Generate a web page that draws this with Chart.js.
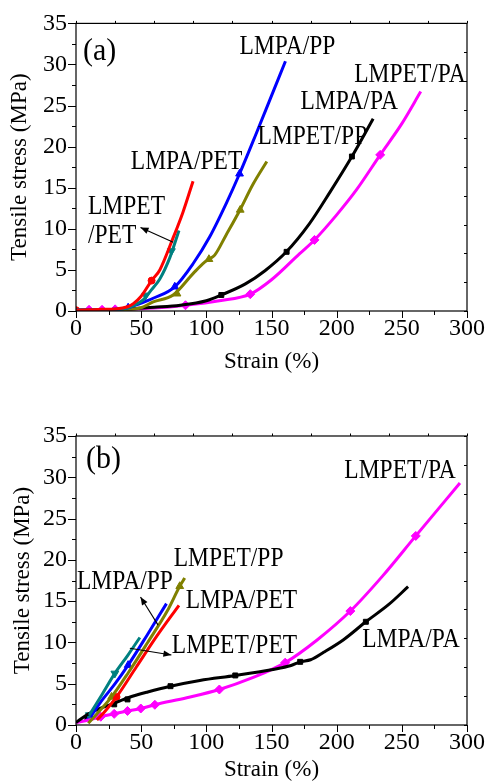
<!DOCTYPE html>
<html><head><meta charset="utf-8">
<script src="https://cdn.jsdelivr.net/npm/chart.js@4.4.1/dist/chart.umd.min.js"></script>
<style>
html,body{margin:0;padding:0;background:#fff;overflow:hidden}
.box{position:relative;width:488px;height:392px}
</style></head><body>
<div class="box"><canvas id="ca"></canvas></div>
<div class="box"><canvas id="cb"></canvas></div>
<script>
// ---------- data (strain %, stress MPa) ----------
const xTickValues = [0, 50, 100, 150, 200, 250, 300];
const yTickValues = [0, 5, 10, 15, 20, 25, 30, 35];
const seriesNames = ['LMPA/PET', 'LMPET/PET', 'LMPA/PP', 'LMPET/PP', 'LMPA/PA', 'LMPET/PA'];

// panel (a) curves
const a_LMPA_PET  = [[0,0.1],[10,0.15],[20,0.2],[30,0.25],[40,0.55],[44,0.9],[50,1.8],[58,3.7],[64.3,5.0],[74.5,8.9],[82,12.0],[89.8,15.8]];
const a_LMPET_PET = [[0,0.1],[20,0.15],[30,0.2],[40,0.4],[46,0.8],[51.5,1.35],[58,2.6],[64.3,3.9],[72,6.5],[79,9.8]];
const a_LMPA_PP   = [[0,0.1],[20,0.15],[30,0.2],[40,0.4],[49,0.9],[59.2,1.55],[75.8,2.95],[89.8,5.75],[102.5,9.0],[115.3,13.1],[125.5,16.7],[138.3,21.6],[148.5,25.6],[160.7,30.4]];
const a_LMPET_PP  = [[0,0.1],[20,0.1],[40,0.2],[50,0.4],[59.2,1.1],[74.5,1.95],[89.8,4.55],[98.7,5.95],[102,6.3],[106.4,6.8],[115,9.2],[125.5,12.2],[135.7,15.4],[146.4,18.2]];
const a_LMPA_PA   = [[0,0.1],[20,0.15],[40,0.25],[60,0.45],[80,0.7],[100,1.25],[111.5,1.95],[130,3.3],[145,4.9],[161.4,7.2],[179,10.6],[195,14.5],[211.7,18.8],[228,23.4]];
const a_LMPET_PA  = [[0,0.1],[20,0.15],[40,0.2],[60,0.35],[84,0.7],[110,1.25],[133.7,2.05],[150,3.8],[171.4,6.95],[183,8.65],[200,11.7],[215,14.7],[233.4,19.0],[250,22.8],[264.5,26.7]];

// panel (a) marker points
const a_mk_LMPA_PET  = [[0,0.1],[58,3.7]];
const a_mk_LMPET_PET = [[53.5,1.9],[73.2,7.3]];
const a_mk_LMPA_PP   = [[40,0.4],[75.8,2.95],[125.5,16.7]];
const a_mk_LMPET_PP  = [[77.5,2.1],[102,6.3],[126,12.3]];
const a_mk_LMPA_PA   = [[111.5,1.95],[161.6,7.2],[211.7,18.8]];
const a_mk_LMPET_PA  = [[10,0.15],[20,0.15],[30,0.2],[84,0.7],[133.7,2.05],[183,8.65],[233.4,19.0]];

// panel (b) curves
const b_LMPA_PET  = [[16,0.6],[22,1.6],[31.1,3.4],[46.4,7.05],[61.7,10.7],[79,14.5]];
const b_LMPET_PET = [[10.2,1.2],[20,3.7],[29.8,6.25],[40,8.5],[49,10.6]];
const b_LMPA_PP   = [[11.2,1.0],[20,3.0],[30,5.0],[40,7.25],[55,11.0],[69.4,14.7]];
const b_LMPET_PP  = [[9.4,0.2],[18,1.7],[27.3,3.4],[40,6.3],[55,10.0],[70,13.8],[79.6,16.8],[83.4,17.8]];
const b_LMPA_PA   = [[0,0.3],[7,1.1],[18.4,2.0],[28.6,2.6],[40,3.3],[55,4.0],[72.5,4.7],[95,5.4],[122.2,6.0],[150,6.7],[165,7.2],[172,7.65],[180,7.9],[190,8.8],[205,10.3],[222.4,12.5],[240,14.6],[254.8,16.75]];
const b_LMPET_PA  = [[0,0.3],[10,0.6],[19,1.0],[29.3,1.35],[39.5,1.7],[49.7,2.0],[60.5,2.45],[85,3.3],[110,4.3],[135,5.7],[160.5,7.55],[185,10.3],[210.5,13.8],[235,18.0],[260.7,22.9],[294.6,29.3]];

// panel (b) marker points
const b_mk_LMPA_PET  = [[31.1,3.4]];
const b_mk_LMPET_PET = [[10.2,1.2],[29.8,6.25]];
const b_mk_LMPA_PP   = [[11.2,1.0],[40,7.25]];
const b_mk_LMPET_PP  = [[27.3,3.4],[79.6,16.8]];
const b_mk_LMPA_PA   = [[8.7,0.85],[29.3,2.5],[39.5,3.1],[72.5,4.7],[122.2,6.0],[172,7.65],[222.4,12.5]];
const b_mk_LMPET_PA  = [[19,1.0],[29.3,1.35],[39.5,1.7],[49.7,2.0],[60.5,2.45],[110,4.3],[160.5,7.55],[210.5,13.8],[260.7,22.9]];

// annotation texts (anchor in data units: left edge, baseline)
const a_labels = [
  {t:'(a)', x:5.4, y:30.5, big:true},
  {t:'LMPA/PP', x:125.5, y:31.26},
  {t:'LMPET/PA', x:213.5, y:27.88},
  {t:'LMPA/PA', x:172.2, y:24.62},
  {t:'LMPET/PP', x:139.3, y:20.28},
  {t:'LMPA/PET', x:42.1, y:17.26},
  {t:'LMPET', x:9.2, y:11.83},
  {t:'/PET', x:9.2, y:8.33}
];
const a_arrows = [{x1:74.6, y1:8.36, x2:49.5, y2:10.17}];
const b_labels = [
  {t:'(b)', x:7.65, y:31.1, big:true},
  {t:'LMPET/PA', x:205.9, y:29.9},
  {t:'LMPET/PP', x:75, y:19.26},
  {t:'LMPA/PP', x:0.77, y:16.47},
  {t:'LMPA/PET', x:84.2, y:14.17},
  {t:'LMPET/PET', x:73.5, y:8.72},
  {t:'LMPA/PA', x:219.6, y:9.45}
];
const b_arrows = [{x1:63, y1:12.1, x2:49.5, y2:15.5},{x1:41.3, y1:9.29, x2:73.2, y2:8.48}];

// ---------- styles ----------
const colors = ['#ff0000', '#008080', '#0000ff', '#808000', '#000000', '#ff00ff'];
const shapes = ['circle', 'triangle', 'triangle', 'triangle', 'rect', 'rectRot'];
const rotations = [0, 180, 0, 0, 0, 0];
const radii = [3.5, 4.5, 4.5, 4.5, 3.5, 4.5];
const SERIF = '"Liberation Serif", "Times New Roman", serif';

function toXY(arr){ return arr.map(p => ({x:p[0], y:p[1]})); }

function buildDatasets(curves, markers){
  const ds = [];
  curves.forEach((c, i) => {
    ds.push({label: seriesNames[i], data: toXY(c), showLine: true, borderColor: colors[i],
      backgroundColor: colors[i], borderWidth: 3, pointRadius: 0, cubicInterpolationMode: 'monotone', tension: 0.4});
  });
  markers.forEach((m, i) => {
    ds.push({label: seriesNames[i] + ' markers', data: toXY(m), showLine: false, borderColor: colors[i],
      backgroundColor: colors[i], pointStyle: shapes[i], rotation: rotations[i],
      pointRadius: radii[i], borderWidth: 1});
  });
  return ds;
}

const decorPlugin = {
  id: 'decor',
  afterDatasetsDraw(chart, args, opts){
    const ctx = chart.ctx, xs = chart.scales.x, ys = chart.scales.y, a = chart.chartArea;
    ctx.save();
    // labels (slightly tall serif, like the source figure)
    ctx.fillStyle = '#000';
    ctx.textBaseline = 'alphabetic';
    ctx.textAlign = 'left';
    opts.labels.forEach(l => {
      const px = xs.getPixelForValue(l.x), py = ys.getPixelForValue(l.y);
      ctx.save();
      ctx.translate(px, py);
      ctx.scale(1, l.big ? 1.05 : 1.17);
      ctx.font = (l.big ? 30 : 23.5) + 'px ' + SERIF;
      ctx.fillText(l.t, 0, 0);
      ctx.restore();
    });
    // arrows
    ctx.strokeStyle = '#000'; ctx.lineWidth = 1.1;
    opts.arrows.forEach(ar => {
      const x1 = xs.getPixelForValue(ar.x1), y1 = ys.getPixelForValue(ar.y1);
      const x2 = xs.getPixelForValue(ar.x2), y2 = ys.getPixelForValue(ar.y2);
      ctx.beginPath(); ctx.moveTo(x1, y1); ctx.lineTo(x2, y2); ctx.stroke();
      const ang = Math.atan2(y2 - y1, x2 - x1), L = 8, W = 3.2;
      ctx.beginPath();
      ctx.moveTo(x2, y2);
      ctx.lineTo(x2 - L*Math.cos(ang) + W*Math.sin(ang), y2 - L*Math.sin(ang) - W*Math.cos(ang));
      ctx.lineTo(x2 - L*Math.cos(ang) - W*Math.sin(ang), y2 - L*Math.sin(ang) + W*Math.cos(ang));
      ctx.closePath(); ctx.fillStyle = '#000'; ctx.fill();
    });
    // frame
    ctx.lineWidth = 1.2; ctx.strokeStyle = '#000';
    ctx.strokeRect(a.left, a.top, a.right - a.left, a.bottom - a.top);
    ctx.lineWidth = 1;
    ctx.beginPath();
    for (let v = xs.min; v <= xs.max + 1e-6; v += 25) {
      const p = Math.round(xs.getPixelForValue(v)) + 0.5;
      const len = (v % 50 === 0) ? 7 : 4;
      ctx.moveTo(p, a.bottom); ctx.lineTo(p, a.bottom + len);
    }
    for (let v = ys.min; v <= ys.max + 1e-6; v += 2.5) {
      const p = Math.round(ys.getPixelForValue(v)) + 0.5;
      const len = (v % 5 === 0) ? 8 : 4;
      ctx.moveTo(a.left, p); ctx.lineTo(a.left - len, p);
    }
    for (let v = xs.min; v <= xs.max + 1e-6; v += 30) {
      const p = Math.round(xs.getPixelForValue(v)) + 0.5;
      ctx.moveTo(p, a.top); ctx.lineTo(p, a.top - 2.5);
    }
    for (let v = ys.min; v <= ys.max + 1e-6; v += 3.5) {
      const p = Math.round(ys.getPixelForValue(v)) + 0.5;
      ctx.moveTo(a.right, p); ctx.lineTo(a.right - 3, p);
    }
    ctx.stroke();
    ctx.restore();
  }
};

function makeChart(id, curves, markers, labels, arrows, topPad, xAxisH, xTitlePadBottom, yTitlePadTop){
  return new Chart(document.getElementById(id), {
    type: 'scatter',
    data: {datasets: buildDatasets(curves, markers)},
    plugins: [decorPlugin],
    options: {
      responsive: true, maintainAspectRatio: false, animation: false, devicePixelRatio: 1,
      layout: {padding: {top: topPad, right: 20, left: 0, bottom: 0}},
      plugins: {legend: {display: false}, tooltip: {enabled: false}, decor: {labels, arrows}},
      scales: {
        x: {
          type: 'linear', min: 0, max: 300,
          afterBuildTicks: s => { s.ticks = xTickValues.map(v => ({value: v})); },
          afterFit: s => { s.height = xAxisH; },
          grid: {display: false, drawTicks: false}, border: {display: false},
          ticks: {font: {family: SERIF, size: 24}, color: '#000', padding: 3, maxRotation: 0, autoSkip: false},
          title: {display: true, text: 'Strain (%)', color: '#000', font: {family: SERIF, size: 23},
                  padding: {top: 0, bottom: xTitlePadBottom}}
        },
        y: {
          type: 'linear', min: 0, max: 35,
          afterBuildTicks: s => { s.ticks = yTickValues.map(v => ({value: v})); },
          afterFit: s => { s.width = 76; },
          grid: {display: false, drawTicks: false}, border: {display: false},
          ticks: {font: {family: SERIF, size: 24}, color: '#000', padding: 9, autoSkip: false},
          title: {display: true, text: 'Tensile stress (MPa)', color: '#000', font: {family: SERIF, size: 23},
                  padding: {top: yTitlePadTop, bottom: 0}}
        }
      }
    }
  });
}

makeChart('ca',
  [a_LMPA_PET, a_LMPET_PET, a_LMPA_PP, a_LMPET_PP, a_LMPA_PA, a_LMPET_PA],
  [a_mk_LMPA_PET, a_mk_LMPET_PET, a_mk_LMPA_PP, a_mk_LMPET_PP, a_mk_LMPA_PA, a_mk_LMPET_PA],
  a_labels, a_arrows, 21, 81, 16, 6);
makeChart('cb',
  [b_LMPA_PET, b_LMPET_PET, b_LMPA_PP, b_LMPET_PP, b_LMPA_PA, b_LMPET_PA],
  [b_mk_LMPA_PET, b_mk_LMPET_PET, b_mk_LMPA_PP, b_mk_LMPET_PP, b_mk_LMPA_PA, b_mk_LMPET_PA],
  b_labels, b_arrows, 44, 59, 0, 9);
</script>
</body></html>
